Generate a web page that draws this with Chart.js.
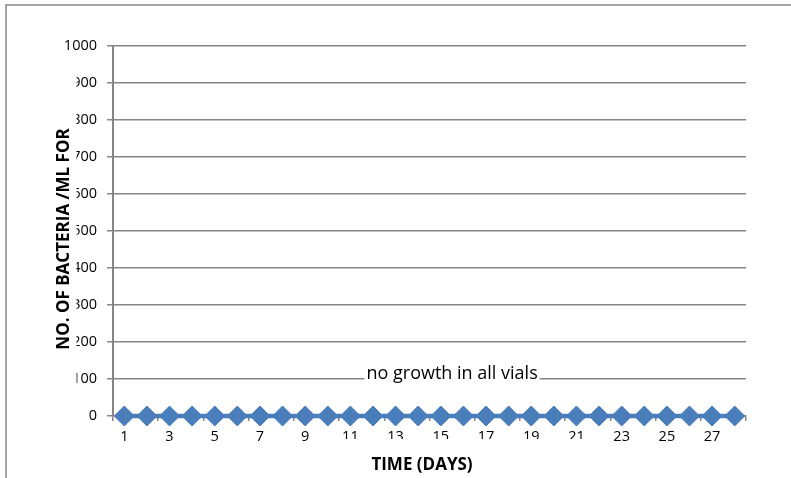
<!DOCTYPE html>
<html>
<head>
<meta charset="utf-8">
<script src="https://cdn.jsdelivr.net/npm/chart.js@4"></script>
<style>
  html, body { margin: 0; padding: 0; background: #ffffff; }
  canvas { display: block; }
</style>
</head>
<body>
<canvas id="chart" width="791" height="478"></canvas>
<script>
// Days of observation
const days = ['1','2','3','4','5','6','7','8','9','10','11','12','13','14',
              '15','16','17','18','19','20','21','22','23','24','25','26','27','28'];
// Bacterial count per ml on each day
const bacteriaPerMl = [0,0,0,0,0,0,0,0,0,0,0,0,0,0,0,0,0,0,0,0,0,0,0,0,0,0,0,0];
// Value axis range
const yMin = 0;
const yMax = 1000;
const yStep = 100;

const yTitle = 'NO. OF BACTERIA /ML FOR';
const xTitle = 'TIME (DAYS)';
const noteText = 'no growth in all vials';
// Note anchor in data units (category position, count)
const noteAt = { x: 14.5, y: 100 };

const BLUE = '#4a7ebb';
const GRID = '#868686';
const FONT = '"Open Sans", "Liberation Sans", sans-serif';

const decor = {
  id: 'decor',
  beforeDraw(chart) {
    const { ctx } = chart;
    ctx.save();
    ctx.strokeStyle = '#a6a6a6';
    ctx.lineWidth = 2;
    ctx.beginPath();
    ctx.moveTo(791, 5);
    ctx.lineTo(6, 5);
    ctx.lineTo(6, 478);
    ctx.stroke();
    ctx.restore();
  },
  afterDraw(chart) {
    const { ctx, chartArea, scales: { x, y } } = chart;
    ctx.save();

    // note text on a white box
    const nx = x.getPixelForValue(noteAt.x);
    const ny = y.getPixelForValue(noteAt.y);
    ctx.font = '18px ' + FONT;
    const w = ctx.measureText(noteText).width;
    ctx.fillStyle = '#ffffff';
    ctx.fillRect(nx - w / 2 - 2, ny - 16, w + 4, 23);
    ctx.fillStyle = '#000000';
    ctx.textAlign = 'center';
    ctx.textBaseline = 'alphabetic';
    ctx.fillText(noteText, nx, ny);

    // white band of the note's frame under the middle day labels
    ctx.fillStyle = '#ffffff';
    ctx.fillRect(nx - 114, chartArea.bottom + 23, 262, 12);

    // value axis title, with its white box over the tick labels
    const tx = 64;
    const ty = (chartArea.top + chartArea.bottom) / 2 + 8;
    ctx.fillStyle = '#ffffff';
    ctx.fillRect(50, chartArea.top + 25, 26.5, 322);
    ctx.translate(tx, ty);
    ctx.rotate(-Math.PI / 2);
    ctx.font = 'bold 17px ' + FONT;
    ctx.fillStyle = '#000000';
    ctx.textAlign = 'center';
    ctx.textBaseline = 'middle';
    ctx.fillText(yTitle, 0, 0);
    ctx.setTransform(1, 0, 0, 1, 0, 0);

    // category axis title
    ctx.font = 'bold 17px ' + FONT;
    ctx.textAlign = 'center';
    ctx.textBaseline = 'middle';
    ctx.fillText(xTitle, (chartArea.left + chartArea.right) / 2 - 7.5, 465);
    ctx.restore();
  }
};

new Chart(document.getElementById('chart'), {
  type: 'line',
  data: {
    labels: days,
    datasets: [{
      data: bacteriaPerMl,
      borderColor: BLUE,
      backgroundColor: BLUE,
      borderWidth: 4.5,
      pointStyle: 'rectRot',
      pointRadius: 10,
      pointHoverRadius: 10,
      pointBackgroundColor: BLUE,
      pointBorderColor: BLUE,
      pointBorderWidth: 1,
      tension: 0,
      clip: false
    }]
  },
  options: {
    responsive: false,
    animation: false,
    events: [],
    layout: { padding: { left: 0, right: 45, top: 46, bottom: 0 } },
    plugins: { legend: { display: false }, tooltip: { enabled: false } },
    scales: {
      x: {
        type: 'category',
        offset: true,
        afterFit(scale) { scale.height = 62; },
        grid: {
          offset: true,
          drawOnChartArea: false,
          drawTicks: true,
          tickLength: 5,
          lineWidth: 1.5,
          color: (c) => (c.index === undefined || c.index % 2 === 0) ? GRID : 'rgba(0,0,0,0)'
        },
        border: { display: true, color: GRID, width: 1.5 },
        ticks: {
          autoSkip: false,
          maxRotation: 0,
          padding: 7,
          color: '#000000',
          font: { family: FONT, size: 14.5 },
          callback: (v, i) => (i % 2 === 0 ? days[i] : '')
        }
      },
      y: {
        min: yMin,
        max: yMax,
        afterFit(scale) { scale.width = 113; },
        grid: { color: GRID, lineWidth: 1.5, tickLength: 6 },
        border: { display: true, color: GRID, width: 2 },
        ticks: {
          stepSize: yStep,
          padding: 10,
          color: '#000000',
          font: { family: FONT, size: 14.5 },
          callback: (v) => String(v)
        }
      }
    }
  },
  plugins: [decor]
});
</script>
</body>
</html>
